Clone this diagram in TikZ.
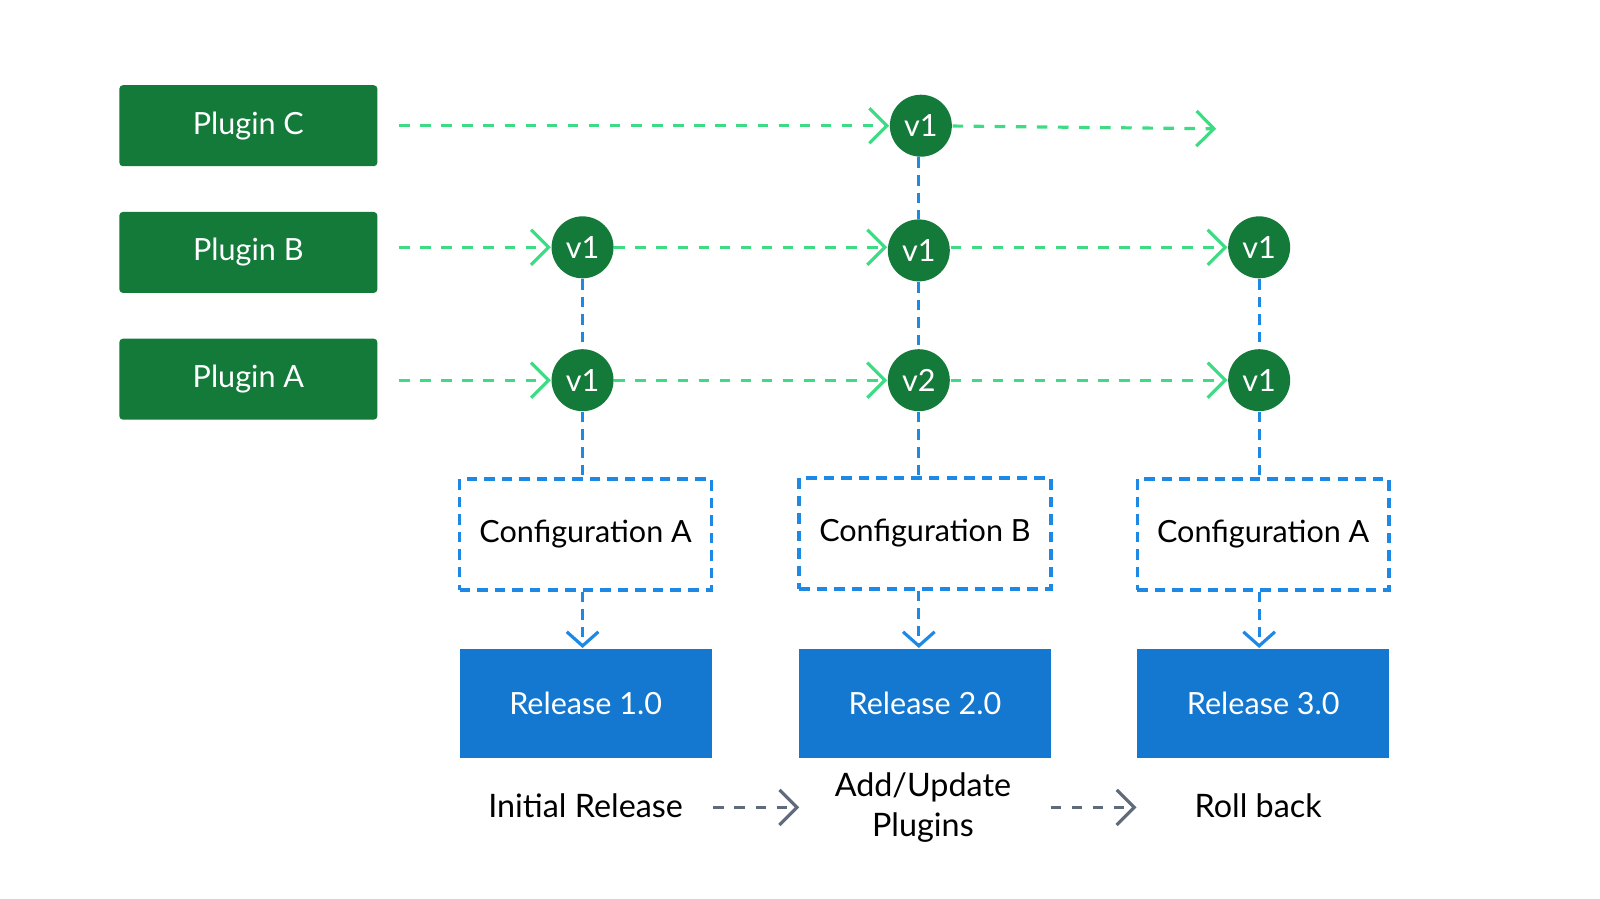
\documentclass[tikz,border=0pt]{standalone}
\usepackage{fontspec}
\setmainfont{Lato}
\usetikzlibrary{arrows.meta}
\definecolor{dg}{HTML}{137A3A}
\definecolor{lg}{HTML}{3DDC84}
\definecolor{bl}{HTML}{1E88E5}
\definecolor{rb}{HTML}{1477D0}
\definecolor{gr}{HTML}{5F6B7A}
\tikzset{
 plug/.style={fill=dg,rounded corners=1pt,minimum width=2.58cm,minimum height=0.81cm,text=white,font=\fontsize{8.7}{10}\selectfont},
 ver/.style={circle,fill=dg,minimum size=0.62cm,inner sep=0pt,text=white,font=\fontsize{8.7}{10}\selectfont},
 cfg/.style={draw=bl,densely dashed,line width=1pt,minimum width=2.52cm,minimum height=1.11cm,font=\fontsize{8.7}{10}\selectfont},
 rel/.style={fill=rb,minimum width=2.52cm,minimum height=1.09cm,text=white,font=\fontsize{8.7}{10}\selectfont},
 lbl/.style={font=\fontsize{9.2}{11.2}\selectfont,align=center},
 garr/.style={draw=lg,dashed,line width=0.9pt,-{Straight Barb[length=5pt,width=10pt]}},
 bline/.style={draw=bl,densely dashed,line width=0.9pt},
 barr/.style={bline,-{Straight Barb[length=4pt,width=9pt]}},
 gyarr/.style={draw=gr,dashed,line width=0.9pt,-{Straight Barb[length=5pt,width=10pt]}},
}
\begin{document}
\begin{tikzpicture}[x=0.01022cm,y=-0.01022cm]
\node[plug] (pc) at (243,123) {Plugin C};
\node[plug] (pb) at (243,247) {Plugin B};
\node[plug] (pa) at (243,371) {Plugin A};
\node[ver] (c2) at (901,123) {v1};
\node[ver] (b1) at (570,242) {v1};
\node[ver] (b2) at (899,245) {v1};
\node[ver] (b3) at (1232,242) {v1};
\node[ver] (a1) at (570,372) {v1};
\node[ver] (a2) at (899,372) {v2};
\node[ver] (a3) at (1232,372) {v1};
\coordinate (cend) at (1190,126);
\node[cfg] (f1) at (573,523) {Configuration A};
\node[cfg] (f2) at (905,522) {Configuration B};
\node[cfg] (f3) at (1236,523) {Configuration A};
\node[rel] (r1) at (573,688) {Release 1.0};
\node[rel] (r2) at (905,688) {Release 2.0};
\node[rel] (r3) at (1236,688) {Release 3.0};
\node[lbl] (l1) at (573,788) {Initial Release};
\node[lbl] (l2) at (903,790) {Add/Update\\Plugins};
\node[lbl] (l3) at (1231,788) {Roll back};
\draw[garr] ([xshift=6pt]pc.east) -- (c2);
\draw[garr] (c2) -- (cend);
\draw[garr] ([xshift=6pt]pb.east |- b1) -- (b1);
\draw[garr] (b1) -- (b2.west |- b1);
\draw[garr] (b2.east |- b1) -- (b3);
\draw[garr] ([xshift=6pt]pa.east |- a1) -- (a1);
\draw[garr] (a1) -- (a2);
\draw[garr] (a2) -- (a3);
\draw[bline] (c2.south -| b2) -- (b2);
\draw[bline] (b1) -- (a1);
\draw[bline] (b2) -- (a2);
\draw[bline] (b3) -- (a3);
\draw[bline] (a1) -- (a1 |- f1.north);
\draw[bline] (a2) -- (a2 |- f2.north);
\draw[bline] (a3) -- (a3 |- f3.north);
\draw[barr] (a1 |- f1.south) -- (a1 |- r1.north);
\draw[barr] (a2 |- f2.south) -- (a2 |- r2.north);
\draw[barr] (a3 |- f3.south) -- (a3 |- r3.north);
\draw[gyarr] (698,790) -- (782,790);
\draw[gyarr] (1028,790) -- (1112,790);
\pgfresetboundingbox
\path[use as bounding box] (0,0) rectangle (1565.5,879.6);
\end{tikzpicture}
\end{document}
